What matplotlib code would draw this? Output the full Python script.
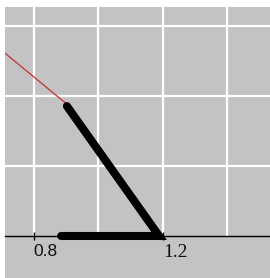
import matplotlib
matplotlib.use('Agg')
import matplotlib.pyplot as plt

# data
path_x = [0.902, 1.188, 0.884]
path_y = [0.371, 0.0, 0.0]
red_x = [0.68, 0.90]
red_y = [0.545, 0.378]
grid_x = [0.8, 1.0, 1.2, 1.4]
grid_y = [0.2, 0.4, 0.6]
tick_vals = [0.8, 1.2]
tick_labels = ['0.8', '1.2']

fig = plt.figure(figsize=(2.7, 2.78), dpi=100)
ax = fig.add_axes([5 / 270, 0, 265 / 270, 271 / 278])
ax.set_facecolor('#c3c3c3')
ax.set_xlim(0.71, 1.532)
ax.set_ylim(-0.12, 0.654)

for gx in grid_x:
    ax.vlines(gx, 0, 0.654, colors='white', linewidth=1.6, zorder=1)
for gy in grid_y:
    ax.axhline(gy, color='white', linewidth=1.6, zorder=1)

for side in ['top', 'right', 'left']:
    ax.spines[side].set_visible(False)
ax.spines['bottom'].set_position(('data', 0))
ax.spines['bottom'].set_linewidth(1.0)
ax.spines['bottom'].set_zorder(2)
ax.set_yticks([])
ax.set_xticks(tick_vals)
ax.tick_params(axis='x', direction='inout', length=6, width=1, labelbottom=False)

ax.plot(red_x, red_y, color='#c83030', linewidth=0.9, zorder=3)
ax.plot(path_x, path_y, color='black', linewidth=5.8,
        solid_capstyle='round', solid_joinstyle='miter', zorder=4)

ax.text(tick_vals[0] - 0.003, -0.024, tick_labels[0], ha='left', va='top', fontsize=12.5,
        family=['Liberation Sans Narrow', 'Liberation Sans', 'DejaVu Sans'], color='#111111')
ax.text(tick_vals[1], -0.024, tick_labels[1], ha='left', va='top', fontsize=14,
        family=['Liberation Serif', 'DejaVu Serif'], color='#111111')

fig.savefig('out.png', dpi=100)
